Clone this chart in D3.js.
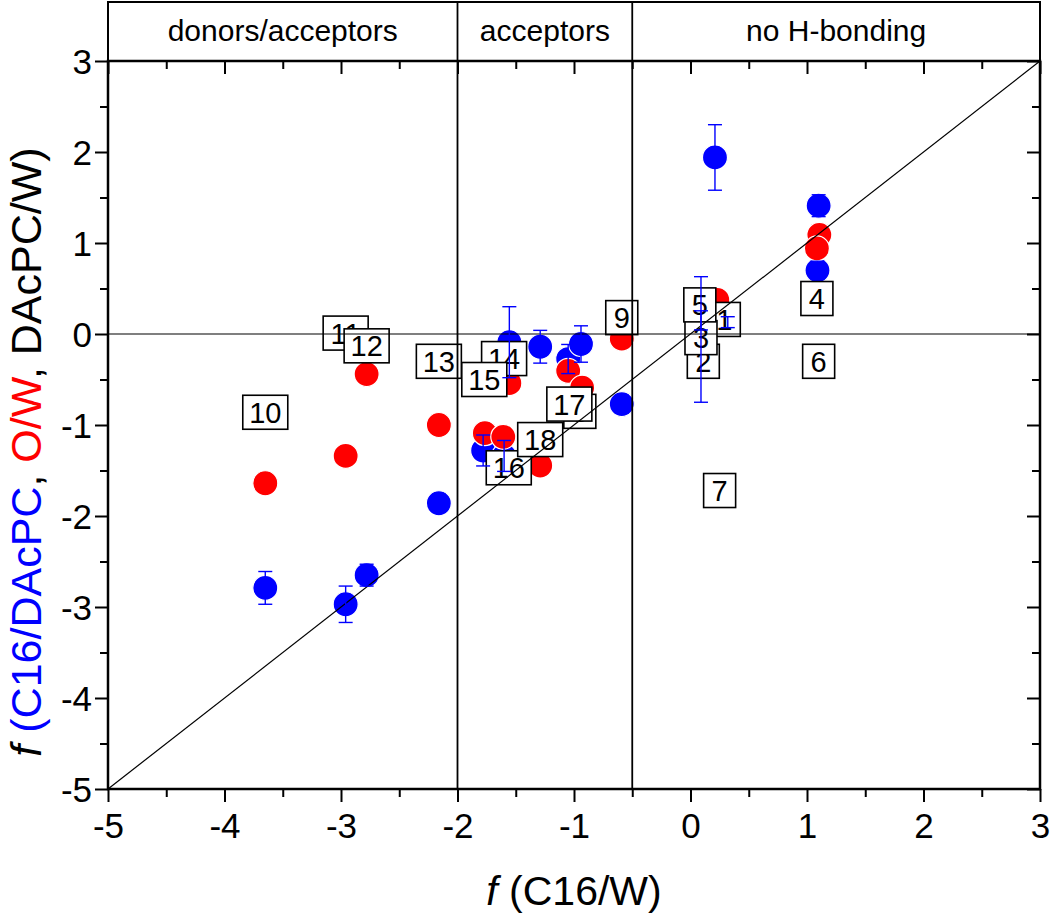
<!DOCTYPE html>
<html><head><meta charset="utf-8">
<script src="https://cdn.jsdelivr.net/npm/d3@7"></script>
<style>body{margin:0;background:#fff}svg{display:block;font-family:"Liberation Sans",Arial,sans-serif}</style>
</head><body><svg id="c" width="1050" height="914"></svg>
<script>
// ---- data ----
const sections = ["donors/acceptors", "acceptors", "no H-bonding"];
const sectionBounds = [-5, -2, -0.5, 3];
const tickValues = [-5, -4, -3, -2, -1, 0, 1, 2, 3];
const minorTickValues = [-4.5, -3.5, -2.5, -1.5, -0.5, 0.5, 1.5, 2.5];
// C16/DAcPC (blue)
const blueX   = [-3.65, -2.96, -2.78, -2.16, -1.78, -1.60, -1.555, -1.29, -1.05, -0.94, -0.59, 0.09, 0.09, 0.32, 0.21, 1.10, 1.09];
const blueY   = [-2.79, -2.97, -2.65, -1.86, -1.28, -1.34, -0.09, -0.14, -0.275, -0.11, -0.77, -0.06, 0.15, 0.13, 1.94, 1.41, 0.70];
const blueErr = [0.18, 0.20, 0.12, 0.10, 0.17, 0.17, 0.39, 0.18, 0.16, 0.20, 0.10, 0.69, 0.105, 0.06, 0.36, 0.12, 0.10];
// O/W (red)
const redX = [-3.65, -2.96, -2.78, -2.16, -1.765, -1.607, -1.555, -1.29, -1.05, -0.93, -0.59, 0.23, 1.106, 1.085];
const redY = [-1.64, -1.34, -0.44, -1.00, -1.09, -1.13, -0.54, -1.445, -0.405, -0.59, -0.05, 0.375, 1.09, 0.94];
// DAcPC/W (numbered boxes)
const labelIds = [1, 2, 3, 4, 5, 6, 7, 8, 9, 10, 11, 12, 13, 14, 15, 16, 17, 18];
const labelX = [0.29, 0.11, 0.09, 1.085, 0.08, 1.10, 0.25, -0.95, -0.59, -3.65, -2.96, -2.78, -2.16, -1.60, -1.77, -1.56, -1.04, -1.29];
const labelY = [0.16, -0.30, -0.04, 0.39, 0.32, -0.30, -1.72, -0.85, 0.18, -0.86, 0.01, -0.13, -0.30, -0.27, -0.50, -1.47, -0.77, -1.16];

// ---- layout ----
const L = 108, R = 1040, T = 61, B = 789, HT = 2;
const BLUE = "#0000ff", RED = "#ff0000";
const svg = d3.select("#c");
const x = d3.scaleLinear().domain([-5, 3]).range([L, R]);
const y = d3.scaleLinear().domain([-5, 3]).range([B, T]);

// header
const hdr = svg.append("g");
hdr.append("rect").attr("x", L).attr("y", HT).attr("width", R - L).attr("height", T - HT)
  .attr("fill", "none").attr("stroke", "#000").attr("stroke-width", 2);
sections.forEach((s, i) => {
  hdr.append("text").attr("x", (x(sectionBounds[i]) + x(sectionBounds[i + 1])) / 2).attr("y", 41)
    .attr("text-anchor", "middle").attr("font-size", 30).text(s);
});
sectionBounds.slice(1, 3).forEach(v => {
  hdr.append("line").attr("x1", x(v)).attr("x2", x(v)).attr("y1", HT).attr("y2", T)
    .attr("stroke", "#000").attr("stroke-width", 1.8);
});

// points
const bluePts = blueX.map((v, i) => ({x: v, y: blueY[i], e: blueErr[i]}));
const redPts = redX.map((v, i) => ({x: v, y: redY[i]}));
const labels = labelIds.map((id, i) => ({id, x: labelX[i], y: labelY[i]}));

svg.append("g").selectAll("circle").data(bluePts).join("circle")
  .attr("cx", d => x(d.x)).attr("cy", d => y(d.y)).attr("r", 12.5)
  .attr("fill", BLUE).attr("stroke", "#fff").attr("stroke-width", 1.2);
svg.append("g").selectAll("circle").data(redPts).join("circle")
  .attr("cx", d => x(d.x)).attr("cy", d => y(d.y)).attr("r", 12.5)
  .attr("fill", RED).attr("stroke", "#fff").attr("stroke-width", 1.2);

// label boxes
const lg = svg.append("g").selectAll("g").data(labels).join("g")
  .attr("transform", d => `translate(${x(d.x)},${y(d.y)})`);
lg.append("rect")
  .attr("x", d => d.id >= 10 ? -22.5 : -16).attr("y", -17)
  .attr("width", d => d.id >= 10 ? 45 : 32).attr("height", 34)
  .attr("fill", "#fff").attr("stroke", "#000").attr("stroke-width", 1.6);
lg.append("text").attr("text-anchor", "middle").attr("y", 10.5).attr("font-size", 29).text(d => d.id);

// reference lines
const lines = svg.append("g").attr("stroke", "#000").attr("fill", "none");
lines.append("line").attr("x1", x(-5)).attr("x2", x(3)).attr("y1", y(0)).attr("y2", y(0)).attr("stroke-width", 1.1);
lines.append("line").attr("x1", x(-5)).attr("x2", x(3)).attr("y1", y(-5)).attr("y2", y(3)).attr("stroke-width", 1.2);
sectionBounds.slice(1, 3).forEach(v => {
  lines.append("line").attr("x1", x(v)).attr("x2", x(v)).attr("y1", T).attr("y2", B).attr("stroke-width", 1.8);
});

// error bars
const eb = svg.append("g").attr("stroke", BLUE).attr("stroke-width", 1.4).attr("fill", "none");
bluePts.forEach(d => {
  const cx = x(d.x), y1 = y(d.y + d.e), y2 = y(d.y - d.e);
  eb.append("line").attr("x1", cx).attr("x2", cx).attr("y1", y1).attr("y2", y2);
  eb.append("line").attr("x1", cx - 7).attr("x2", cx + 7).attr("y1", y1).attr("y2", y1);
  eb.append("line").attr("x1", cx - 7).attr("x2", cx + 7).attr("y1", y2).attr("y2", y2);
});

// axes
const fmt = d => String(d);
function styleAxis(g, labels) {
  g.select(".domain").remove();
  g.selectAll(".tick line").attr("stroke", "#000").attr("stroke-width", 2);
  g.selectAll(".tick text").attr("font-size", 35).attr("fill", "#000");
  if (!labels) g.selectAll(".tick text").remove();
}
const gl = svg.append("g").attr("transform", `translate(${L},0)`)
  .call(d3.axisLeft(y).tickValues(tickValues).tickSize(13).tickPadding(3).tickFormat(fmt));
styleAxis(gl, true);
gl.selectAll(".tick text").attr("dy", "0.36em");
svg.append("g").attr("transform", `translate(${L},0)`)
  .call(d3.axisLeft(y).tickValues(minorTickValues).tickSize(8).tickFormat(""))
  .call(g => styleAxis(g, false));
const gb = svg.append("g").attr("transform", `translate(0,${B})`)
  .call(d3.axisBottom(x).tickValues(tickValues).tickSize(13).tickPadding(11).tickFormat(fmt));
styleAxis(gb, true);
svg.append("g").attr("transform", `translate(0,${B})`)
  .call(d3.axisBottom(x).tickValues(minorTickValues).tickSize(8).tickFormat(""))
  .call(g => styleAxis(g, false));
// top and right (inward)
svg.append("g").attr("transform", `translate(0,${T})`)
  .call(d3.axisBottom(x).tickValues(tickValues).tickSize(13).tickFormat(""))
  .call(g => styleAxis(g, false));
svg.append("g").attr("transform", `translate(0,${T})`)
  .call(d3.axisBottom(x).tickValues(minorTickValues).tickSize(8).tickFormat(""))
  .call(g => styleAxis(g, false));
svg.append("g").attr("transform", `translate(${R},0)`)
  .call(d3.axisLeft(y).tickValues(tickValues).tickSize(13).tickFormat(""))
  .call(g => styleAxis(g, false));
svg.append("g").attr("transform", `translate(${R},0)`)
  .call(d3.axisLeft(y).tickValues(minorTickValues).tickSize(8).tickFormat(""))
  .call(g => styleAxis(g, false));
// frame
svg.append("rect").attr("x", L).attr("y", T).attr("width", R - L).attr("height", B - T)
  .attr("fill", "none").attr("stroke", "#000").attr("stroke-width", 2.5);

// axis titles
const xt = svg.append("text").attr("x", (L + R) / 2).attr("y", 905).attr("text-anchor", "middle").attr("font-size", 41);
xt.append("tspan").attr("font-style", "italic").text("f");
xt.append("tspan").text(" (C16/W)");

const yt = svg.append("text").attr("transform", `translate(41,452) rotate(-90)`)
  .attr("text-anchor", "middle").attr("font-size", 43);
yt.append("tspan").attr("font-style", "italic").text("f");
yt.append("tspan").text(" ");
yt.append("tspan").attr("fill", BLUE).text("(C16/DAcPC");
yt.append("tspan").text(", ");
yt.append("tspan").attr("fill", RED).text("O/W");
yt.append("tspan").text(", DAcPC/W)");
</script></body></html>
